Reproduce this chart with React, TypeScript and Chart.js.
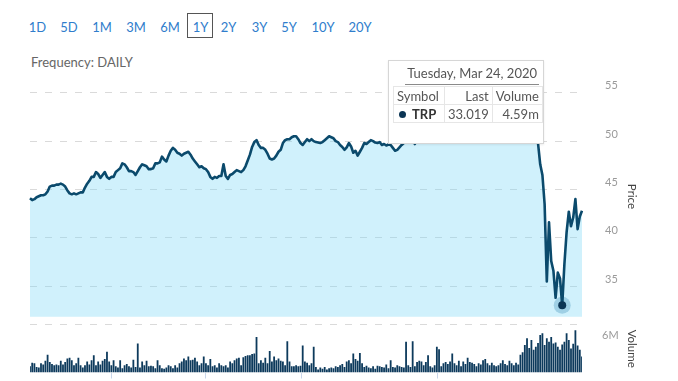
import React, { useEffect, useRef } from 'react';
import { Chart, registerables } from 'chart.js';

Chart.register(...registerables);

// ---------- data ----------
const RANGES = ['1D', '5D', '1M', '3M', '6M', '1Y', '2Y', '3Y', '5Y', '10Y', '20Y'];
const ACTIVE_RANGE = '1Y';
const FREQUENCY = 'Frequency: DAILY';

const START_DATE = '2019-04-08';
const HOLIDAYS = ['2019-04-19', '2019-05-27', '2019-07-04', '2019-09-02', '2019-11-28', '2019-12-25', '2020-01-01', '2020-01-20', '2020-02-17'];
const MONTH_TICKS = ['2019-05-01', '2019-07-01', '2019-09-03', '2019-11-01', '2020-03-02'];
const HIGHLIGHT_DATE = '2020-03-24';
const HIGHLIGHT_LABEL = 'Tuesday, Mar 24, 2020';
const SYMBOL = 'TRP';
const HIGHLIGHT_LAST = '33.019';
const HIGHLIGHT_VOLUME = '4.59m';

const PRICES = [
  44.1, 43.9, 44.0, 44.2, 44.3, 44.4, 44.4, 44.5, 44.8, 45.3,
  45.4, 45.4, 45.5, 45.5, 45.6, 45.5, 45.3, 44.9, 44.6, 44.5,
  44.6, 44.5, 44.6, 44.7, 44.7, 45.2, 45.6, 45.9, 46.3, 46.3,
  46.8, 46.6, 46.2, 46.5, 46.8, 46.3, 46.1, 46.3, 46.3, 46.8,
  47.0, 47.2, 47.7, 47.6, 47.3, 46.9, 46.9, 46.8, 46.5, 46.9,
  47.3, 47.6, 47.5, 47.4, 47.1, 47.1, 47.2, 47.7, 47.7, 47.8,
  48.4, 48.1, 47.9, 48.5, 49.0, 49.3, 49.1, 48.8, 48.7, 48.5,
  48.7, 48.8, 48.9, 48.6, 48.2, 47.9, 47.6, 47.3, 47.4, 47.2,
  47.1, 46.8, 46.3, 46.1, 46.3, 46.2, 46.4, 46.4, 47.6, 46.4,
  46.1, 46.5, 46.6, 46.8, 47.0, 46.9, 46.8, 47.0, 47.4, 48.0,
  48.6, 49.4, 49.9, 50.1, 49.6, 49.3, 49.3, 49.1, 48.7, 48.2,
  48.1, 48.2, 48.5, 48.9, 49.1, 49.8, 50.1, 50.2, 50.2, 50.4,
  50.5, 50.5, 50.2, 49.8, 49.6, 49.9, 50.2, 50.0, 50.2, 50.0,
  49.9, 49.85, 49.8, 49.9, 50.1, 50.3, 50.5, 50.4, 50.3, 50.0,
  49.9, 49.6, 49.4, 49.1, 49.35, 49.8, 49.45, 48.8, 49.0, 48.5,
  48.9, 49.3, 49.8, 49.7, 49.9, 50.1, 50.0, 49.85, 49.8, 49.9,
  49.6, 49.7, 49.55, 49.65, 49.6, 49.3, 49.0, 49.1, 49.35, 49.6,
  49.8, 50.1, 50.3, 50.2, 50.0, 49.7, 50.2, 50.6, 51.0, 51.3,
  51.5, 51.8, 52.2, 52.0, 52.4, 52.8, 53.1, 52.9, 53.3, 53.6,
  53.4, 53.8, 54.1, 53.9, 54.3, 54.0, 53.7, 54.0, 54.4, 54.6,
  54.9, 55.2, 55.0, 55.4, 55.7, 55.5, 55.9, 56.2, 56.0, 56.4,
  56.6, 56.3, 56.1, 55.7, 55.2, 54.6, 53.9, 53.2, 53.6, 54.1,
  53.5, 52.8, 53.3, 52.6, 52.0, 51.4, 51.8, 51.2, 50.7, 50.3,
  50.3, 49.8, 47.6, 46.5, 43.5, 35.5, 41.6, 37.6, 36.6, 33.8,
  36.4, 35.8, 33.019, 37.3, 40.6, 42.7, 41.2, 42.1, 44.0, 40.9,
  42.2, 42.8,
];

// volume in millions
const VOLUMES_M = [
  1.0, 1.6, 1.5, 0.9, 0.8, 1.5, 1.3, 1.9, 2.9, 1.7,
  1.4, 1.2, 1.3, 1.2, 1.9, 1.3, 1.7, 2.3, 2.4, 2.0,
  1.2, 1.5, 2.4, 1.2, 0.8, 1.2, 1.8, 1.3, 2.0, 2.8,
  1.2, 1.8, 1.3, 1.9, 2.2, 3.4, 1.8, 1.2, 2.0, 1.0,
  0.8, 2.0, 0.7, 1.2, 1.4, 1.0, 0.8, 2.1, 0.9, 4.75,
  0.8, 1.8, 1.2, 1.9, 1.0, 1.1, 1.0, 0.7, 2.0, 1.2,
  0.7, 0.6, 0.8, 1.2, 1.0, 0.7, 1.2, 0.8, 1.5, 1.8,
  2.3, 2.0, 2.6, 2.0, 2.1, 2.4, 1.8, 1.2, 1.5, 2.6,
  1.5, 1.2, 2.2, 1.0, 1.2, 0.8, 1.5, 1.2, 1.0, 1.2,
  0.8, 1.8, 1.5, 2.0, 2.3, 2.4, 1.2, 2.5, 2.7, 2.8,
  2.8, 3.0, 3.1, 5.8, 1.5, 2.0, 1.6, 2.4, 1.5, 3.5,
  1.8, 2.6, 2.0, 2.3, 1.9, 1.8, 1.2, 5.1, 1.8, 1.0,
  1.0, 1.2, 1.0, 1.1, 4.4, 1.8, 1.6, 1.2, 1.5, 4.2,
  0.9, 0.5, 0.8, 0.6, 0.9, 0.5, 0.7, 0.8, 0.7, 1.0,
  0.9, 1.2, 1.4, 0.9, 1.8, 2.0, 1.5, 3.1, 2.2, 1.9,
  3.2, 1.5, 0.9, 1.1, 0.8, 0.7, 1.0, 0.6, 1.1, 1.0,
  0.9, 0.8, 1.3, 0.7, 2.0, 0.9, 0.8, 1.2, 1.0, 0.9,
  0.8, 5.0, 1.2, 0.9, 5.1, 1.0, 1.7, 1.9, 1.8, 1.2,
  1.7, 2.8, 1.0, 0.8, 1.2, 4.2, 3.8, 1.0, 1.5, 1.7,
  1.4, 1.8, 3.1, 1.5, 1.2, 1.9, 1.0, 1.8, 1.4, 2.4,
  1.7, 1.6, 1.4, 1.0, 1.5, 1.3, 2.0, 2.2, 1.5, 1.2,
  1.6, 1.2, 1.0, 1.2, 1.5, 2.0, 1.4, 1.2, 1.9, 1.5,
  1.2, 1.6, 1.3, 2.9, 3.3, 4.5, 5.6, 4.0, 5.3, 3.7,
  4.2, 4.8, 6.1, 6.4, 4.5, 5.6, 5.0, 5.8, 4.75, 4.9,
  4.2, 3.7, 4.59, 5.0, 6.4, 5.3, 3.9, 4.7, 6.9, 4.4,
  3.7, 2.6,
];

const PRICE_TICKS = [35, 40, 45, 50, 55];
const PRICE_MIN = 31.0;
const PRICE_MAX = 57.56;
const FILL_BASE = 31.85;
const VOLUME_TICK_M = 6;
const VOLUME_MAX_M = 7.77;

// ---------- helpers ----------
function tradingDays(start: string, n: number, holidays: string[]): string[] {
  const out: string[] = [];
  const d = new Date(start + 'T00:00:00Z');
  while (out.length < n) {
    const dow = d.getUTCDay();
    const iso = d.toISOString().slice(0, 10);
    if (dow !== 0 && dow !== 6 && !holidays.includes(iso)) out.push(iso);
    d.setUTCDate(d.getUTCDate() + 1);
  }
  return out;
}

const DATES = tradingDays(START_DATE, PRICES.length, HOLIDAYS);
const HI = DATES.indexOf(HIGHLIGHT_DATE);

const FONT = 'Lato, "Open Sans", sans-serif';

function fitY(s: any) {
  s.width = 61;
  s.paddingTop = 0;
  s.paddingBottom = 0;
}

function PriceChart() {
  const ref = useRef<HTMLCanvasElement | null>(null);

  useEffect(() => {
    if (!ref.current) return;
    const halo = PRICES.map((v, i) => (i === HI ? v : null));
    const chart = new Chart(ref.current, {
      type: 'line',
      data: {
        labels: DATES,
        datasets: [
          {
            type: 'line',
            label: SYMBOL,
            data: PRICES,
            yAxisID: 'y',
            borderColor: '#0b4a6c',
            borderWidth: 2.6,
            borderJoinStyle: 'round',
            backgroundColor: 'rgba(120,215,245,0.35)',
            fill: { value: FILL_BASE },
            tension: 0,
            pointRadius: (ctx: any) => (ctx.dataIndex === HI ? 4 : 0),
            pointBackgroundColor: '#0b3554',
            pointBorderWidth: 0,
            order: 0,
          },
          {
            type: 'line',
            label: 'highlight',
            data: halo,
            yAxisID: 'y',
            showLine: false,
            pointRadius: 8.5,
            pointBackgroundColor: 'rgba(105,155,185,0.5)',
            pointBorderWidth: 0,
            fill: false,
            order: 1,
          },
          {
            type: 'bar',
            label: 'Volume',
            data: VOLUMES_M.map((v) => v * 1e6),
            yAxisID: 'yv',
            backgroundColor: '#0d3a5c',
            borderWidth: 0,
            barPercentage: 0.82,
            categoryPercentage: 1,
            order: 2,
          },
        ] as any,
      },
      options: {
        responsive: false,
        animation: false,
        devicePixelRatio: 1,
        layout: { padding: { top: 68, left: 30, right: 35, bottom: 0 } },
        plugins: { legend: { display: false }, tooltip: { enabled: false } },
        scales: {
          x: {
            type: 'category',
            offset: false,
            afterBuildTicks: (s: any) => {
              s.ticks = MONTH_TICKS.map((d) => ({ value: DATES.indexOf(d) }));
            },
            afterFit: (s: any) => {
              s.height = 6;
              s.paddingLeft = 0;
              s.paddingRight = 0;
            },
            grid: { display: true, drawOnChartArea: false, drawTicks: true, tickLength: 6, color: '#c9d6ea' },
            border: { display: false },
            ticks: { autoSkip: false, maxRotation: 0, padding: 0, callback: () => '', font: { size: 1 } },
          },
          y: {
            type: 'linear',
            position: 'right',
            stack: 'panel',
            stackWeight: 259,
            min: PRICE_MIN,
            max: PRICE_MAX,
            afterBuildTicks: (s: any) => {
              s.ticks = PRICE_TICKS.map((v) => ({ value: v }));
            },
            afterFit: fitY,
            grid: { color: '#dadada', drawTicks: false, lineWidth: 1 },
            border: { display: false, dash: [7, 8] },
            ticks: {
              padding: 23,
              labelOffset: -7,
              color: '#9a9a9a',
              font: { family: FONT, size: 11 },
              callback: (v: any) => String(v),
            },
            title: {
              display: true,
              text: 'Price',
              color: '#444',
              font: { family: FONT, size: 11.5 },
              padding: { top: 4, bottom: 0 },
            },
          },
          yv: {
            type: 'linear',
            position: 'right',
            stack: 'panel',
            stackWeight: 48,
            min: 0,
            max: VOLUME_MAX_M * 1e6,
            afterBuildTicks: (s: any) => {
              s.ticks = [{ value: VOLUME_TICK_M * 1e6 }, { value: VOLUME_MAX_M * 1e6 }];
            },
            afterFit: fitY,
            grid: {
              drawTicks: false,
              color: (ctx: any) => (ctx.tick && ctx.tick.value > VOLUME_TICK_M * 1e6 ? '#dadada' : 'rgba(0,0,0,0)'),
            },
            border: { display: false, dash: [7, 8] },
            ticks: {
              padding: 20,
              color: '#9a9a9a',
              font: { family: FONT, size: 11 },
              callback: (v: any) => (v === VOLUME_TICK_M * 1e6 ? VOLUME_TICK_M + 'M' : ''),
            },
            title: {
              display: true,
              text: 'Volume',
              color: '#444',
              font: { family: FONT, size: 11.5 },
              padding: { top: 4, bottom: 0 },
            },
          },
        },
      } as any,
    });
    return () => chart.destroy();
  }, []);

  return (
    <canvas
      ref={ref}
      width={678}
      height={381}
      style={{ position: 'absolute', left: 0, top: 0, width: 678, height: 381 }}
    />
  );
}

const RANGE_X = [37.5, 69, 102, 136, 170, 200.5, 228.5, 259.5, 289, 323, 360];

export default function App() {
  const cell: React.CSSProperties = {
    border: '1px solid #e6e6e6',
    padding: '0 3px',
    height: 17,
    lineHeight: '16px',
    whiteSpace: 'nowrap',
  };
  return (
    <div
      style={{
        position: 'fixed',
        left: 0,
        top: 0,
        width: 678,
        height: 381,
        background: '#fff',
        overflow: 'hidden',
        fontFamily: FONT,
      }}
    >
      {RANGES.map((r, i) => (
        <div
          key={r}
          style={{
            position: 'absolute',
            left: RANGE_X[i],
            top: 27,
            transform: 'translate(-50%, -50%)',
            fontSize: 13,
            color: '#2f7dcc',
            lineHeight: '16px',
            whiteSpace: 'nowrap',
          }}
        >
          {r}
        </div>
      ))}
      <div
        style={{
          position: 'absolute',
          left: 187,
          top: 13,
          width: 26,
          height: 25,
          boxSizing: 'border-box',
          border: '1px solid #555',
        }}
      />
      <div style={{ position: 'absolute', left: 31, top: 54, fontSize: 13, color: '#666', lineHeight: '16px' }}>{FREQUENCY}</div>

      <PriceChart />

      <div
        style={{
          position: 'absolute',
          left: 388,
          top: 60,
          width: 156,
          height: 84,
          boxSizing: 'border-box',
          background: '#fff',
          border: '1px solid #d6d6d6',
          boxShadow: '0 1px 2px rgba(0,0,0,0.08)',
          color: '#555',
          fontSize: 13,
        }}
      >
        <div
          style={{
            position: 'absolute',
            right: 4,
            top: 3,
            padding: '0 2px 2px 2px',
            lineHeight: '18px',
            borderBottom: '1px solid #8a8a8a',
            whiteSpace: 'nowrap',
          }}
        >
          {HIGHLIGHT_LABEL}
        </div>
        <table
          style={{
            position: 'absolute',
            left: 4,
            top: 25,
            borderCollapse: 'collapse',
            fontSize: 13,
            color: '#555',
          }}
        >
          <tbody>
            <tr>
              <td style={{ ...cell, width: 44, textAlign: 'left' }}>Symbol</td>
              <td style={{ ...cell, width: 39, textAlign: 'right' }}>Last</td>
              <td style={{ ...cell, width: 43, textAlign: 'right' }}>Volume</td>
            </tr>
            <tr>
              <td style={{ ...cell, textAlign: 'left' }}>
                <span
                  style={{
                    display: 'inline-block',
                    width: 7,
                    height: 7,
                    borderRadius: 4,
                    background: '#0b3554',
                    marginLeft: 2,
                    marginRight: 6,
                    verticalAlign: 'middle',
                    position: 'relative',
                    top: -1,
                  }}
                />
                <b style={{ color: '#333' }}>{SYMBOL}</b>
              </td>
              <td style={{ ...cell, textAlign: 'right' }}>{HIGHLIGHT_LAST}</td>
              <td style={{ ...cell, textAlign: 'right' }}>{HIGHLIGHT_VOLUME}</td>
            </tr>
          </tbody>
        </table>
      </div>
    </div>
  );
}
